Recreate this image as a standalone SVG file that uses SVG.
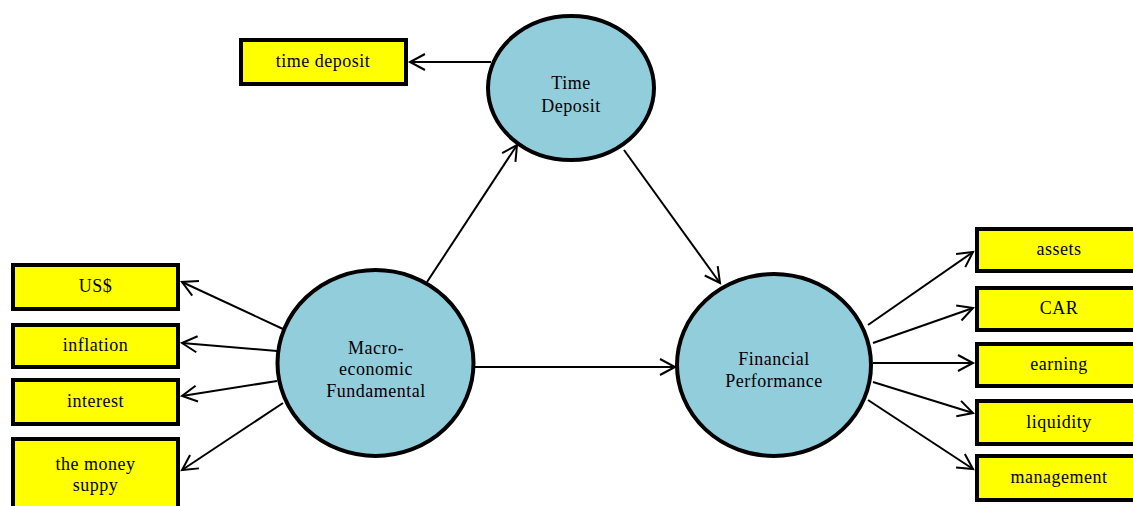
<svg xmlns="http://www.w3.org/2000/svg" width="1133" height="506" viewBox="0 0 1133 506">
<style>
.box{fill:#FFFF00;stroke:#000;stroke-width:4;}
.ell{fill:#92CDDC;stroke:#000;stroke-width:4;}
text{font-family:"Liberation Serif","Times New Roman",serif;font-size:18px;fill:#000;text-anchor:middle;letter-spacing:0.5px;}
.c line{stroke:#000;stroke-width:2;marker-end:url(#ah);}
</style>
<defs>
<marker id="ah" markerUnits="userSpaceOnUse" markerWidth="20" markerHeight="20" viewBox="0 0 20 20" refX="17" refY="10" orient="auto">
<path d="M2,2 L17,10 L2,18" fill="none" stroke="#000" stroke-width="2"/>
</marker>
</defs>
<rect width="1133" height="506" fill="#fff"/>
<g class="c">
<line x1="491" y1="62" x2="410" y2="62"/>
<line x1="427" y1="282" x2="517" y2="145"/>
<line x1="624" y1="150" x2="720" y2="283"/>
<line x1="474" y1="367" x2="675" y2="367"/>
<line x1="283" y1="329" x2="182" y2="282"/>
<line x1="277" y1="351" x2="182" y2="343"/>
<line x1="277" y1="381" x2="182" y2="396"/>
<line x1="283" y1="403" x2="182" y2="470"/>
<line x1="868" y1="325" x2="973" y2="252"/>
<line x1="873" y1="343" x2="973" y2="308"/>
<line x1="873" y1="363" x2="973" y2="363"/>
<line x1="873" y1="382" x2="973" y2="413"/>
<line x1="868" y1="400" x2="973" y2="469"/>
</g>
<g id="td"><ellipse class="ell" cx="571" cy="88" rx="83" ry="72"/><text x="571" y="89">Time</text><text x="571" y="112">Deposit</text></g>
<g id="macro"><ellipse class="ell" cx="375.5" cy="363" rx="98" ry="93"/><text x="376" y="354">Macro-</text><text x="376" y="375">economic</text><text x="376" y="397">Fundamental</text></g>
<g id="fp"><ellipse class="ell" cx="774" cy="365" rx="97" ry="91"/><text x="774" y="365">Financial</text><text x="774" y="387">Performance</text></g>
<g id="b-td"><rect class="box" x="241" y="40" width="165" height="44"/><text x="323" y="67">time deposit</text></g>
<g id="b-us"><rect class="box" x="13" y="265" width="165" height="44"/><text x="95.5" y="292">US$</text></g>
<g id="b-inf"><rect class="box" x="13" y="325" width="165" height="42"/><text x="95.5" y="351">inflation</text></g>
<g id="b-int"><rect class="box" x="13" y="380" width="165" height="44"/><text x="95.5" y="407">interest</text></g>
<g id="b-ms"><rect class="box" x="13" y="439" width="165" height="80"/><text x="95.5" y="470">the money</text><text x="95.5" y="491">suppy</text></g>
<g id="b-assets"><rect class="box" x="977" y="229" width="165" height="42"/><text x="1059" y="255">assets</text></g>
<g id="b-car"><rect class="box" x="977" y="288" width="165" height="42"/><text x="1059" y="314">CAR</text></g>
<g id="b-earn"><rect class="box" x="977" y="344" width="165" height="42"/><text x="1059" y="370">earning</text></g>
<g id="b-liq"><rect class="box" x="977" y="401" width="165" height="43"/><text x="1059" y="428">liquidity</text></g>
<g id="b-mgmt"><rect class="box" x="977" y="456" width="165" height="44"/><text x="1059" y="483">management</text></g>
</svg>
